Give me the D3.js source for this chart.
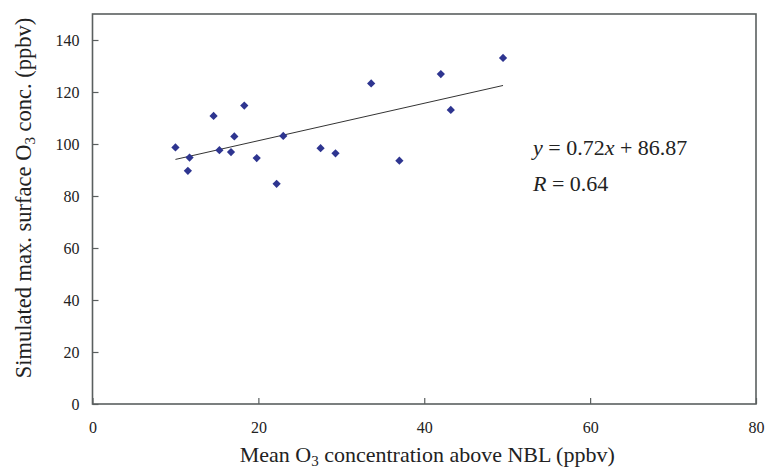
<!DOCTYPE html>
<html>
<head>
<meta charset="utf-8">
<script src="https://cdn.jsdelivr.net/npm/d3@7/dist/d3.min.js"></script>
<style>
  body { margin: 0; background: #fff; }
  svg { display: block; }
</style>
</head>
<body>
<svg id="chart" width="765" height="470"></svg>
<script>
// Mean O3 above NBL (ppbv) vs simulated max. surface O3 (ppbv)
const meanAboveNBL = [10.0, 11.7, 11.5, 14.6, 15.3, 16.7, 17.1, 18.3, 19.8, 22.2, 23.0, 27.5, 29.3, 33.6, 37.0, 42.0, 43.2, 49.5];
const simulatedMax = [98.7, 94.8, 89.7, 110.8, 97.6, 96.9, 102.9, 114.8, 94.6, 84.7, 103.1, 98.4, 96.4, 123.3, 93.6, 126.9, 113.1, 133.1];

const xTicks = [0, 20, 40, 60, 80];
const yTicks = [0, 20, 40, 60, 80, 100, 120, 140];

// Linear fit reported on the chart
const slope = 0.72, intercept = 86.87, rValue = 0.64;

const serif = "Liberation Serif";
const svg = d3.select("#chart");
const margin = { left: 92.5, right: 9, top: 14, bottom: 66 };
const W = 765, H = 470;

const x = d3.scaleLinear().domain([0, 80]).range([margin.left, W - margin.right]);
const y = d3.scaleLinear().domain([0, 150]).range([H - margin.bottom, margin.top]);

const frameColor = "#5a5f5f";

// Axes with inward ticks
const xAxis = d3.axisBottom(x).tickValues(xTicks).tickSizeInner(-6).tickSizeOuter(0).tickPadding(18);
const yAxis = d3.axisLeft(y).tickValues(yTicks).tickSizeInner(-6).tickSizeOuter(0).tickPadding(13);

const gx = svg.append("g").attr("transform", `translate(0,${y(0)})`).call(xAxis);
const gy = svg.append("g").attr("transform", `translate(${x(0)},0)`).call(yAxis);
[gx, gy].forEach(g => {
  g.attr("font-family", serif).attr("font-size", 16);
  g.select(".domain").remove();
  g.selectAll(".tick line").attr("stroke", frameColor).attr("stroke-width", 1.2);
  g.selectAll(".tick text").attr("fill", "#222");
});

// Plot frame
svg.append("rect")
  .attr("x", x(0)).attr("y", y(150))
  .attr("width", x(80) - x(0)).attr("height", y(0) - y(150))
  .attr("fill", "none").attr("stroke", frameColor).attr("stroke-width", 1.6);

// Trend line over the data range
const xMin = d3.min(meanAboveNBL), xMax = d3.max(meanAboveNBL);
svg.append("line")
  .attr("x1", x(xMin)).attr("y1", y(slope * xMin + intercept))
  .attr("x2", x(xMax)).attr("y2", y(slope * xMax + intercept))
  .attr("stroke", "#333").attr("stroke-width", 1);

// Diamond markers
const diamond = d3.symbol().type(d3.symbolSquare).size(34);
svg.append("g").selectAll("path")
  .data(meanAboveNBL.map((v, i) => [v, simulatedMax[i]]))
  .join("path")
  .attr("d", diamond)
  .attr("transform", d => `translate(${x(d[0])},${y(d[1])}) rotate(45)`)
  .attr("fill", "#2e3590");

// Regression equation
const eq = svg.append("text").attr("x", 533).attr("y", 155)
  .attr("font-family", serif).attr("font-size", 22).attr("fill", "#222");
eq.append("tspan").attr("font-style", "italic").text("y");
eq.append("tspan").text(" = " + slope.toFixed(2));
eq.append("tspan").attr("font-style", "italic").text("x");
eq.append("tspan").text(" + " + intercept.toFixed(2));

const rt = svg.append("text").attr("x", 533).attr("y", 191)
  .attr("font-family", serif).attr("font-size", 22).attr("fill", "#222");
rt.append("tspan").attr("font-style", "italic").text("R");
rt.append("tspan").text(" = " + rValue.toFixed(2));

// X axis title
const xt = svg.append("text")
  .attr("x", (x(0) + x(80)) / 2 + 3).attr("y", 462)
  .attr("text-anchor", "middle")
  .attr("font-family", serif).attr("font-size", 22).attr("fill", "#222");
xt.append("tspan").text("Mean O");
xt.append("tspan").attr("dy", 4).attr("font-size", 15).text("3");
xt.append("tspan").attr("dy", -4).text(" concentration above NBL (ppbv)");

// Y axis title
const yt = svg.append("text")
  .attr("transform", `translate(31,${(y(0) + y(150)) / 2 - 11}) rotate(-90)`)
  .attr("text-anchor", "middle")
  .attr("font-family", serif).attr("font-size", 22.5).attr("fill", "#222");
yt.append("tspan").text("Simulated max. surface O");
yt.append("tspan").attr("dy", 4).attr("font-size", 15).text("3");
yt.append("tspan").attr("dy", -4).text(" conc. (ppbv)");
</script>
</body>
</html>
